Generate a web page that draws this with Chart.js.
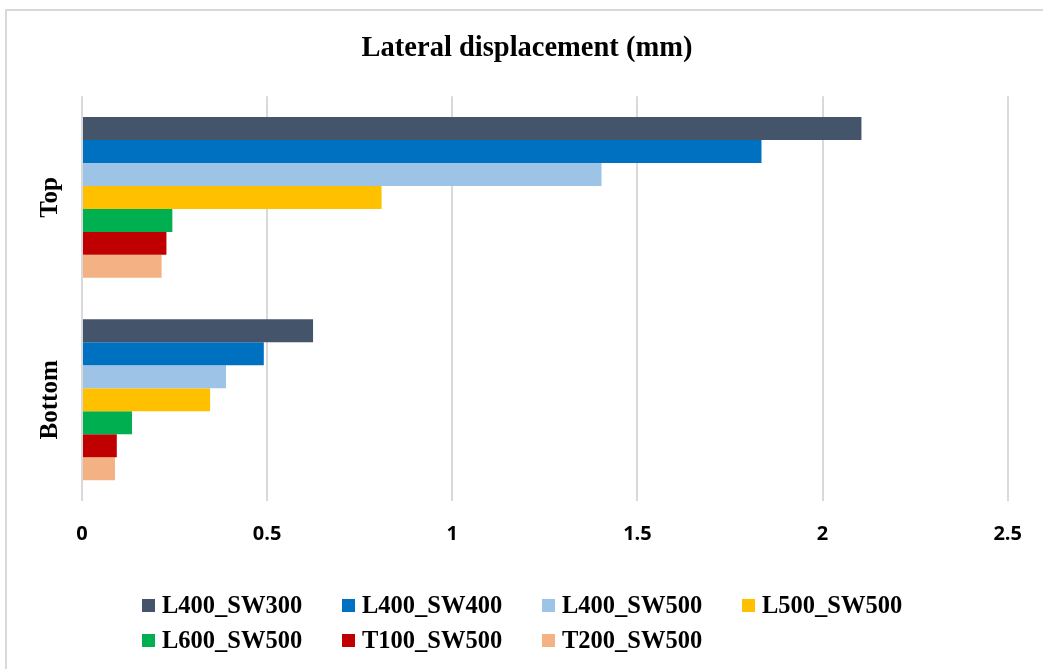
<!DOCTYPE html>
<html>
<head>
<meta charset="utf-8">
<script src="https://cdn.jsdelivr.net/npm/chart.js@4.4.1/dist/chart.umd.min.js"></script>
<style>
body { margin: 0; background: #fff; }
#wrap { position: relative; width: 1043px; height: 669px; overflow: hidden; }
#frame { position: absolute; left: 5px; top: 9px; width: 1100px; height: 700px; border: 2px solid #d9d9d9; }
#chart { position: absolute; left: 0; top: 0; }
#legend { position: absolute; left: 142px; top: 593px; font: bold 24.5px "Liberation Serif", serif; color: #000; }
.item { position: absolute; display: flex; align-items: center; white-space: nowrap; height: 24px; }
.box { width: 13px; height: 13px; margin-right: 7px; }
</style>
</head>
<body>
<div id="wrap">
	<div id="frame"></div>
	<canvas id="chart" width="1043" height="669"></canvas>
	<div id="legend"></div>
</div>
<script>
const categories = ['Top', 'Bottom'];
const seriesNames = ['L400_SW300', 'L400_SW400', 'L400_SW500', 'L500_SW500', 'L600_SW500', 'T100_SW500', 'T200_SW500'];
const seriesColors = ['#44546A', '#0070C0', '#9DC3E6', '#FFC000', '#00B050', '#C00000', '#F4B183'];

// values per series: [Top, Bottom]
const L400_SW300 = [2.105, 0.624];
const L400_SW400 = [1.835, 0.491];
const L400_SW500 = [1.403, 0.389];
const L500_SW500 = [0.809, 0.346];
const L600_SW500 = [0.244, 0.135];
const T100_SW500 = [0.228, 0.094];
const T200_SW500 = [0.215, 0.089];
const seriesValues = [L400_SW300, L400_SW400, L400_SW500, L500_SW500, L600_SW500, T100_SW500, T200_SW500];

const xMin = 0;
const xMax = 2.5;
const xStep = 0.5;

const datasets = seriesNames.map((name, i) => ({
	label: name,
	data: seriesValues[i],
	backgroundColor: seriesColors[i],
	borderWidth: 0,
	categoryPercentage: 0.795,
	barPercentage: 1,
}));

new Chart(document.getElementById('chart'), {
	type: 'bar',
	data: { labels: categories, datasets: datasets },
	options: {
		indexAxis: 'y',
		responsive: false,
		animation: false,
		layout: { padding: { left: 46, right: 35, top: 0, bottom: 0 } },
		plugins: {
			legend: { display: false },
			tooltip: { enabled: false },
			title: {
				display: true,
				text: 'Lateral displacement (mm)',
				color: '#000',
				font: { family: '"Liberation Serif", serif', size: 28.5, weight: 'bold' },
				padding: { top: 32, bottom: 30 },
			},
		},
		scales: {
			x: {
				min: xMin,
				max: xMax,
				border: { display: false },
				grid: { color: '#d9d9d9', lineWidth: 2, drawTicks: false },
				ticks: {
					stepSize: xStep,
					padding: 21,
					color: '#000',
					font: { family: '"Open Sans", sans-serif', size: 20, weight: 'bold' },
					callback: (value) => String(Number(value)),
				},
				afterFit(scale) { scale.height = 168; },
			},
			y: {
				border: { display: false },
				grid: { display: false },
				ticks: {
					mirror: true,
					crossAlign: 'center',
					minRotation: 90,
					maxRotation: 90,
					padding: -71,
					color: '#000',
					font: { family: '"Liberation Serif", serif', size: 25, weight: 'bold' },
				},
				afterFit(scale) { scale.width = 36; },
			},
		},
	},
});

// legend laid out in fixed columns like the original
const legendEl = document.getElementById('legend');
seriesNames.forEach((name, i) => {
	const item = document.createElement('div');
	item.className = 'item';
	item.style.left = (i % 4) * 200 + 'px';
	item.style.top = Math.floor(i / 4) * 35 + 'px';
	const box = document.createElement('span');
	box.className = 'box';
	box.style.background = seriesColors[i];
	item.appendChild(box);
	item.appendChild(document.createTextNode(name));
	legendEl.appendChild(item);
});
</script>
</body>
</html>
